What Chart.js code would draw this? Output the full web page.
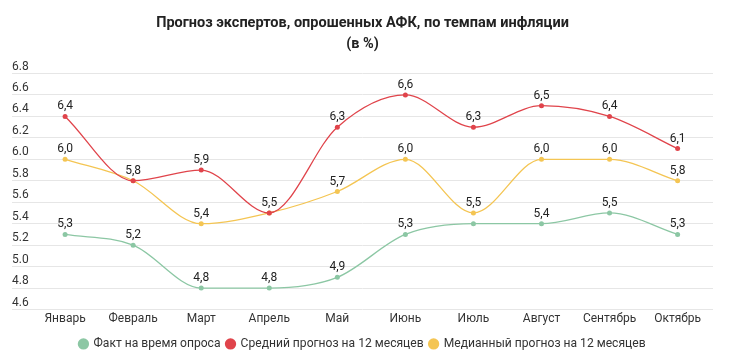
<!DOCTYPE html>
<html lang="ru">
<head>
<meta charset="utf-8">
<script src="https://cdn.jsdelivr.net/npm/chart.js@4/dist/chart.umd.min.js"></script>
<style>
  html, body { margin: 0; padding: 0; background: #fff; }
  #wrap { width: 730px; height: 360px; }
</style>
</head>
<body>
<div id="wrap"><canvas id="chart"></canvas></div>
<script>
// данные
const months = ['Январь', 'Февраль', 'Март', 'Апрель', 'Май', 'Июнь', 'Июль', 'Август', 'Сентябрь', 'Октябрь'];
const factValues = [5.3, 5.2, 4.8, 4.8, 4.9, 5.3, 5.4, 5.4, 5.5, 5.3];
const meanValues = [6.4, 5.8, 5.9, 5.5, 6.3, 6.6, 6.3, 6.5, 6.4, 6.1];
const medianValues = [6.0, 5.8, 5.4, 5.5, 5.7, 6.0, 5.5, 6.0, 6.0, 5.8];
const yTicks = [4.6, 4.8, 5.0, 5.2, 5.4, 5.6, 5.8, 6.0, 6.2, 6.4, 6.6, 6.8];

const toPoints = arr => arr.map((v, i) => ({ x: i, y: v }));

// подписи значений над точками, без наложений
const valueLabels = {
    id: 'valueLabels',
    afterDatasetsDraw(chart) {
        const ctx = chart.ctx;
        const boxes = [];
        const points = [];
        chart.data.datasets.forEach((ds, di) => {
            chart.getDatasetMeta(di).data.forEach(el => points.push({ di, x: el.x, y: el.y }));
        });
        ctx.save();
        ctx.font = '12px Roboto';
        ctx.fillStyle = '#222';
        ctx.textAlign = 'center';
        ctx.textBaseline = 'bottom';
        chart.data.datasets.forEach((ds, di) => {
            chart.getDatasetMeta(di).data.forEach((el, i) => {
                const text = ds.data[i].y.toFixed(1).replace('.', ',');
                const w = ctx.measureText(text).width;
                const box = { l: el.x - w / 2, r: el.x + w / 2, t: el.y - 17, b: el.y - 4 };
                const hitLabel = boxes.some(b => b.l < box.r && b.r > box.l && b.t < box.b && b.b > box.t);
                const hitPoint = points.some(p => p.di !== di && p.x > box.l && p.x < box.r && p.y > box.t - 2 && p.y < box.b + 2);
                if (hitLabel || hitPoint) return;
                boxes.push(box);
                ctx.fillText(text, el.x, el.y - 4);
            });
        });
        ctx.restore();
    }
};

new Chart(document.getElementById('chart'), {
    type: 'line',
    data: {
        datasets: [{
            label: 'Факт на время опроса',
            data: toPoints(factValues),
            borderColor: '#8cc7a4',
            backgroundColor: '#8cc7a4'
        }, {
            label: 'Средний прогноз на 12 месяцев',
            data: toPoints(meanValues),
            borderColor: '#e0444b',
            backgroundColor: '#e0444b'
        }, {
            label: 'Медианный прогноз на 12 месяцев',
            data: toPoints(medianValues),
            borderColor: '#f4c553',
            backgroundColor: '#f4c553'
        }]
    },
    options: {
        responsive: true,
        maintainAspectRatio: false,
        animation: false,
        layout: { padding: { left: 12, right: 17, top: 4, bottom: 0 } },
        elements: {
            line: { borderWidth: 1.3, cubicInterpolationMode: 'monotone' },
            point: { radius: 2.5, borderWidth: 0, hoverRadius: 3 }
        },
        scales: {
            x: {
                type: 'linear',
                min: -0.78,
                max: 9.52,
                afterBuildTicks: scale => { scale.ticks = months.map((m, i) => ({ value: i })); },
                afterFit: scale => { scale.height += 4; },
                ticks: {
                    callback: v => months[v],
                    color: '#333',
                    font: { family: 'Roboto', size: 12 },
                    padding: 2,
                    maxRotation: 0,
                    autoSkip: false
                },
                grid: { display: false, drawTicks: false },
                border: { display: false }
            },
            y: {
                min: 4.6,
                max: 6.8,
                afterBuildTicks: scale => { scale.ticks = yTicks.map(v => ({ value: v })); },
                ticks: {
                    mirror: true,
                    padding: 0,
                    labelOffset: -7,
                    callback: v => v.toFixed(1),
                    color: '#333',
                    font: { family: 'Roboto', size: 12 }
                },
                grid: { color: '#e6e6e6', lineWidth: 1, drawTicks: false },
                border: { display: false }
            }
        },
        plugins: {
            title: {
                display: true,
                text: ['Прогноз экспертов, опрошенных АФК, по темпам инфляции', '(в %)'],
                color: '#222',
                font: { family: 'Roboto', size: 14.5, weight: 'bold', lineHeight: 1.5 },
                padding: { top: 8, bottom: 18 }
            },
            legend: {
                position: 'bottom',
                labels: {
                    usePointStyle: true,
                    pointStyle: 'circle',
                    boxWidth: 8,
                    boxHeight: 8,
                    padding: 6,
                    color: '#333',
                    font: { family: 'Roboto', size: 12.1 }
                }
            },
            tooltip: { enabled: false }
        }
    },
    plugins: [valueLabels]
});
</script>
</body>
</html>
